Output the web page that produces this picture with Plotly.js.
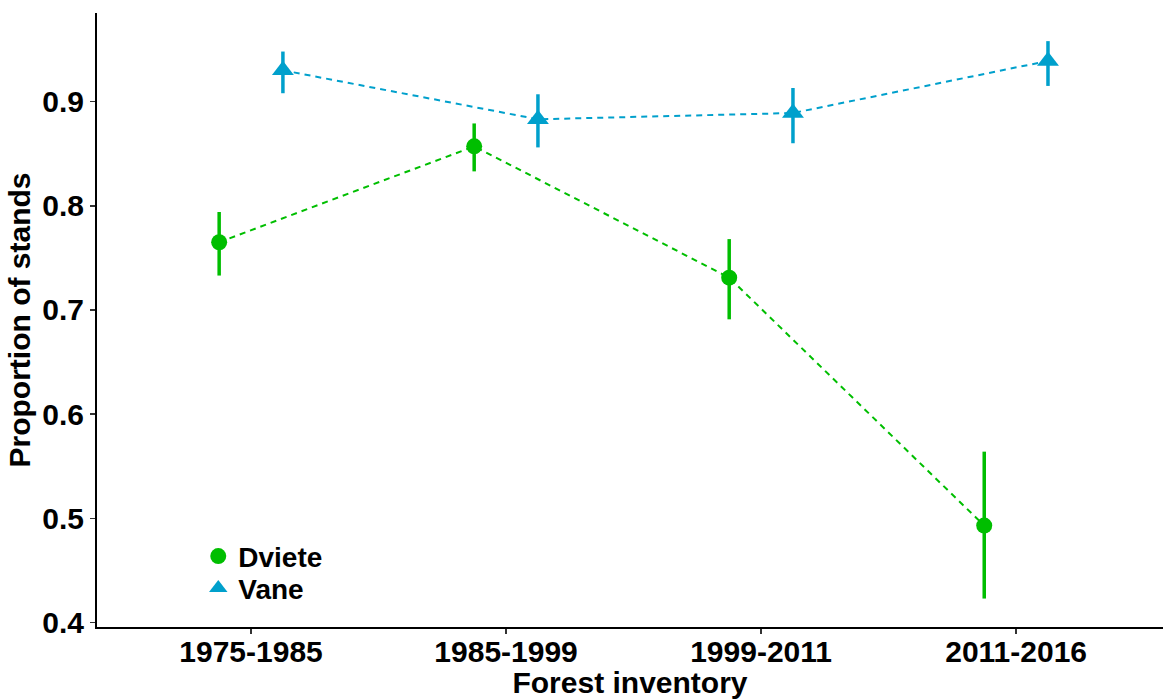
<!DOCTYPE html>
<html>
<head>
<meta charset="utf-8">
<script src="https://cdn.plot.ly/plotly-3.0.1.min.js"></script>
<style>
  html, body { margin: 0; padding: 0; background: #ffffff; }
  #chart { width: 1163px; height: 699px; }
</style>
</head>
<body>
<div id="chart"></div>
<script>
// Forest inventory periods (x axis categories)
const inventories = ['1975-1985', '1985-1999', '1999-2011', '2011-2016'];

// Dviete: estimated proportion of stands with lower / upper bounds
const dvieteMean = [0.765, 0.857, 0.731, 0.493];
const dvieteLow  = [0.733, 0.833, 0.691, 0.423];
const dvieteHigh = [0.794, 0.879, 0.768, 0.564];

// Vane: estimated proportion of stands with lower / upper bounds
const vaneMean = [0.930, 0.883, 0.889, 0.939];
const vaneLow  = [0.908, 0.856, 0.860, 0.915];
const vaneHigh = [0.948, 0.907, 0.913, 0.958];

const yTicks = [0.4, 0.5, 0.6, 0.7, 0.8, 0.9];

const greenCol = '#00BE00';
const blueCol = '#00A0CC';
const dodge = 0.125;
const fontFamily = 'Arial, "Liberation Sans", Helvetica, sans-serif';
const textFont = { family: fontFamily, size: 30, color: '#000000', weight: 'bold' };
const legendFont = { family: fontFamily, size: 28, color: '#000000', weight: 'bold' };

const idx = inventories.map((_, i) => i);
const xDviete = idx.map(i => i - dodge);
const xVane = idx.map(i => i + dodge);

function seriesTraces(name, xs, mean, low, high, color, symbol, size, legendId) {
  const line = {
    type: 'scatter', mode: 'lines', x: xs, y: mean,
    line: { color: color, width: 2, dash: '6px,5px' },
    showlegend: false, hoverinfo: 'skip'
  };
  const pts = {
    type: 'scatter', mode: 'markers', name: name, x: xs, y: mean,
    legend: legendId,
    marker: { color: color, symbol: symbol, size: size, line: { width: 0 } },
    error_y: {
      type: 'data', symmetric: false,
      array: high.map((h, i) => h - mean[i]),
      arrayminus: low.map((l, i) => mean[i] - l),
      color: color, thickness: 3.5, width: 0
    }
  };
  return [line, pts];
}

const [dLine, dPts] = seriesTraces('Dviete', xDviete, dvieteMean, dvieteLow, dvieteHigh, greenCol, 'circle', 16, 'legend');
const [vLine, vPts] = seriesTraces('Vane', xVane, vaneMean, vaneLow, vaneHigh, blueCol, 'triangle-up', 19, 'legend2');

const data = [dLine, vLine, dPts, vPts];

const legendBase = {
  xanchor: 'left', yanchor: 'middle',
  bgcolor: 'rgba(0,0,0,0)', borderwidth: 0,
  font: legendFont
};

const layout = {
  width: 1163, height: 699,
  margin: { l: 97, r: 0, t: 13, b: 72, pad: 0 },
  paper_bgcolor: '#ffffff', plot_bgcolor: '#ffffff',
  font: { family: fontFamily, color: '#000000', size: 30 },
  showlegend: true,
  legend: Object.assign({ x: 0.095, y: 0.115 }, legendBase),
  legend2: Object.assign({ x: 0.095, y: 0.063 }, legendBase),
  xaxis: {
    range: [-0.604, 3.576],
    tickmode: 'array', tickvals: idx, ticktext: inventories,
    showgrid: false, zeroline: false,
    showline: true, linecolor: '#000000', linewidth: 2,
    ticks: 'outside', ticklen: 5, tickwidth: 1.5, tickcolor: '#333333',
    ticklabelstandoff: -8,
    tickfont: textFont,
    title: { text: 'Forest inventory', standoff: 8, font: textFont }
  },
  yaxis: {
    range: [0.3957, 0.985],
    tickmode: 'array', tickvals: yTicks, ticktext: yTicks.map(v => v.toFixed(1)),
    showgrid: false, zeroline: false,
    showline: true, linecolor: '#000000', linewidth: 2,
    ticks: 'outside', ticklen: 5, tickwidth: 1.5, tickcolor: '#333333',
    tickfont: textFont,
    title: { text: 'Proportion of stands', standoff: 3, font: textFont }
  }
};

Plotly.newPlot('chart', data, layout, { displayModeBar: false, staticPlot: true });
</script>
</body>
</html>
